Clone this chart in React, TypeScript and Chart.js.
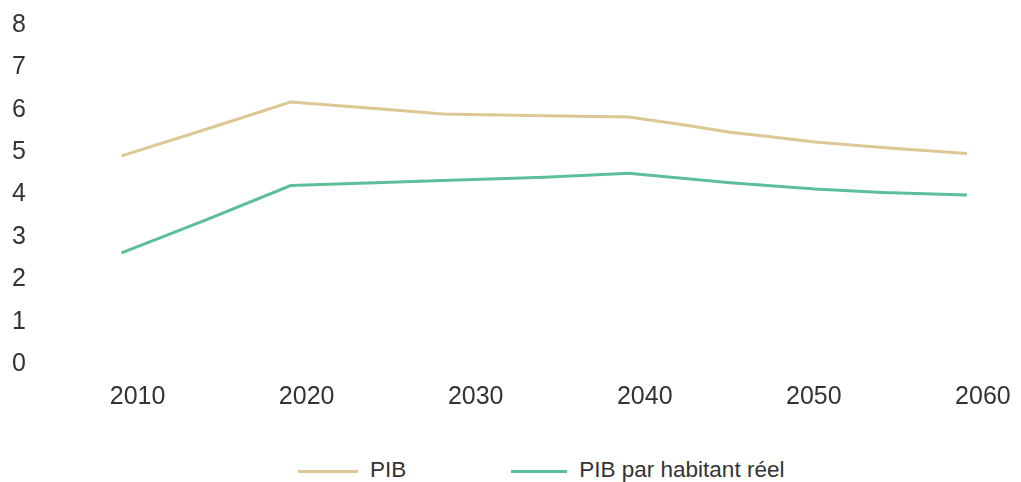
import React, { useEffect, useRef } from "react";
import { Chart, registerables } from "chart.js";

Chart.register(...registerables);

const years = [2010, 2015, 2020, 2025, 2029, 2035, 2040, 2043, 2046, 2048, 2051, 2055, 2060];
const pib = [4.91, 5.54, 6.18, 6.03, 5.9, 5.86, 5.83, 5.66, 5.47, 5.38, 5.24, 5.11, 4.97];
const pibHabitant = [2.62, 3.4, 4.21, 4.28, 4.33, 4.41, 4.5, 4.39, 4.28, 4.22, 4.13, 4.05, 3.99];
const xTicks = [2010, 2020, 2030, 2040, 2050, 2060];
const yTicks = [0, 1, 2, 3, 4, 5, 6, 7, 8];
const seriesNames = ["PIB", "PIB par habitant réel"];
const seriesColors = ["#dcc894", "#5dbf98"];

const FONT = "'Liberation Sans', Arial, Helvetica, sans-serif";

export default function App() {
  const ref = useRef<HTMLCanvasElement | null>(null);

  useEffect(() => {
    if (!ref.current) return;
    const chart = new Chart(ref.current, {
      type: "line",
      data: {
        datasets: [pib, pibHabitant].map((vals, i) => ({
          label: seriesNames[i],
          data: years.map((y, j) => ({ x: y, y: vals[j] })),
          borderColor: seriesColors[i],
          backgroundColor: seriesColors[i],
          borderWidth: 3,
          pointRadius: 0,
          tension: 0,
          fill: false,
        })),
      },
      options: {
        animation: false,
        responsive: true,
        maintainAspectRatio: false,
        layout: { padding: { top: 17, right: 8, left: 4, bottom: 0 } },
        plugins: { legend: { display: false }, tooltip: { enabled: false } },
        scales: {
          x: {
            type: "linear",
            min: 2005.176,
            max: 2061.94,
            grid: { display: false, drawTicks: false },
            border: { display: false },
            afterBuildTicks: (scale: any) => {
              scale.ticks = xTicks.map((v) => ({ value: v }));
            },
            afterFit: (scale: any) => {
              scale.height = 54;
            },
            ticks: {
              labelOffset: 16,
              padding: 18,
              maxRotation: 0,
              autoSkip: false,
              color: "#333",
              font: { family: FONT, size: 25 },
              callback: (v: any) => String(v),
            },
          },
          y: {
            min: 0,
            max: 8,
            grid: { display: false, drawTicks: false },
            border: { display: false },
            afterBuildTicks: (scale: any) => {
              scale.ticks = yTicks.map((v) => ({ value: v }));
            },
            afterFit: (scale: any) => {
              scale.width = 28;
            },
            ticks: {
              crossAlign: "far",
              padding: 0,
              color: "#333",
              font: { family: FONT, size: 25 },
            },
          },
        },
      },
    });
    return () => chart.destroy();
  }, []);

  return (
    <div style={{ position: "relative", height: 474 }}>
      <div style={{ position: "relative", height: 410 }}>
        <canvas ref={ref} />
      </div>
      <div
        style={{
          position: "absolute",
          left: 290,
          top: 448,
          display: "flex",
          alignItems: "center",
          fontFamily: FONT,
          fontSize: 22.5,
          lineHeight: "28px",
          color: "#333",
          whiteSpace: "nowrap",
        }}
      >
        {seriesNames.map((name, i) => (
          <div
            key={name}
            style={{ display: "flex", alignItems: "center", marginRight: i === 0 ? 105 : 0 }}
          >
            <span
              style={{
                display: "inline-block",
                width: i === 0 ? 60 : 56,
                height: 3,
                background: seriesColors[i],
                marginRight: 12,
                marginTop: 3,
              }}
            />
            <span>{name}</span>
          </div>
        ))}
      </div>
    </div>
  );
}
